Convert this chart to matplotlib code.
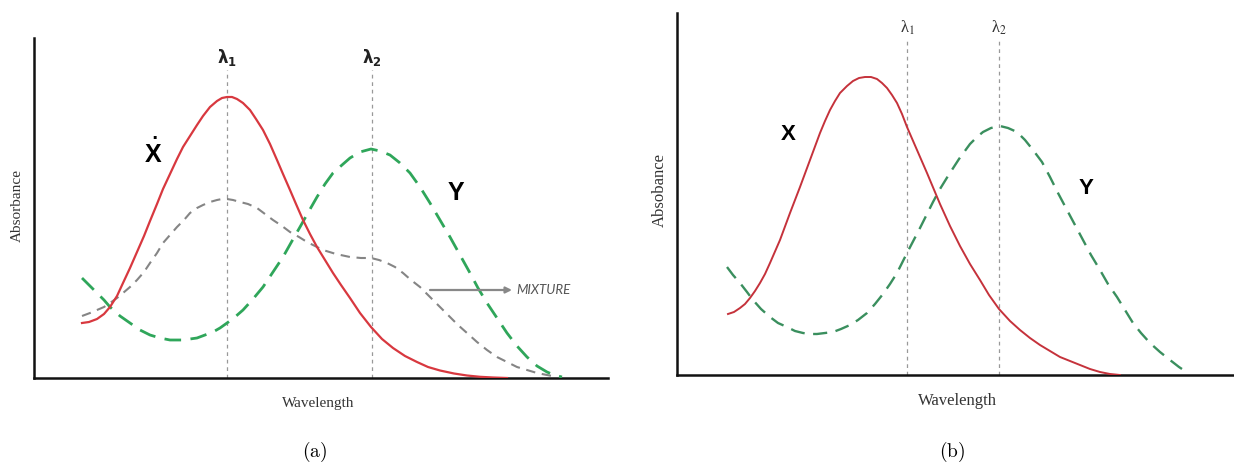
import matplotlib.pyplot as plt

# --- Panel (a): X, Y and their mixture ---
wl_red_a = [48, 55, 63, 70, 76, 83, 89, 96, 103, 110, 116, 123, 129, 136, 143, 149, 156,
            163, 169, 176, 183, 188, 193, 198, 203, 209, 216, 222, 229, 236, 243, 249,
            256, 262, 269, 276, 283, 291, 299, 307, 316, 326, 337, 348, 359, 371, 383,
            394, 406, 420, 433, 446, 459, 473]
abs_red_a = [55, 56, 59, 64, 71, 82, 95, 110, 126, 142, 157, 174, 189, 204, 219, 231, 242,
             253, 262, 271, 277, 280, 281, 281, 279, 275, 268, 259, 248, 234, 218, 204,
             188, 174, 158, 144, 131, 118, 105, 93, 80, 65, 51, 39, 30, 22, 16,
             11, 7.5, 4.5, 2.5, 1.2, 0.5, 0]

wl_green_a = [48, 56, 63, 70, 76, 86, 96, 106, 116, 126, 136, 148, 156, 163, 171, 179,
              186, 193, 201, 209, 219, 229, 239, 249, 258, 266, 275, 283, 291, 299, 308,
              316, 326, 337, 346, 356, 366, 376, 386, 396, 406, 416, 426, 436, 444, 453,
              463, 473, 483, 493, 503, 513, 520, 528]
abs_green_a = [100, 92, 85, 78, 71, 62, 55, 48, 43, 40, 38, 38, 39, 40, 43, 46,
               50, 55, 61, 68, 79, 91, 106, 121, 137, 151, 167, 181, 194, 205, 213,
               220, 226, 229, 227, 223, 215, 205, 191, 175, 158, 141, 123, 105, 90, 75,
               60, 45, 32, 21, 12, 6, 3, 1]

wl_mix_a = [48, 56, 63, 70, 76, 83, 89, 96, 103, 110, 116, 123, 129, 136, 143, 150, 156,
            163, 169, 176, 183, 188, 193, 199, 206, 214, 223, 231, 239, 248, 256, 265,
            273, 281, 289, 302, 316, 327, 337, 345, 353, 361, 369, 377, 386, 392, 399,
            407, 416, 424, 433, 443, 453, 463, 473, 483, 493, 503, 513, 523]
abs_mix_a = [62, 65, 68, 71, 75, 80, 85, 91, 98, 106, 115, 125, 135, 143, 151, 158, 165,
             170, 173, 176, 178, 179, 179, 178, 176, 174, 170, 164, 158, 152, 146, 141,
             136, 132, 128, 124, 121, 120, 120, 118, 115, 111, 105, 98, 91, 85, 78,
             70, 61, 53, 45, 36, 28, 21, 16, 11, 8, 5, 3, 1]

lambdas_a = [193, 338]

# --- Panel (b): X and Y only ---
wl_red_b = [51, 57, 63, 68, 73, 78, 83, 88, 93, 103, 113, 123, 133, 143, 148, 153, 158,
            163, 170, 176, 182, 188, 194, 200, 205, 210, 215, 220, 225, 230, 240, 250,
            263, 273, 283, 293, 303, 312, 322, 333, 343, 353, 363, 373, 383, 393, 403,
            413, 423, 433, 443]
abs_red_b = [61, 63, 67, 71, 77, 84, 92, 101, 112, 135, 162, 188, 215, 242, 254, 265, 274,
             282, 289, 294, 297, 298, 298, 296, 292, 287, 280, 272, 261, 248, 225, 202,
             171, 149, 129, 111, 95, 80, 66, 54, 45, 37, 30, 24, 18, 14, 10,
             6, 3, 1, 0]

wl_green_b = [50, 56, 63, 70, 76, 84, 93, 101, 110, 118, 126, 133, 140, 148, 156, 164,
              173, 181, 190, 198, 206, 213, 220, 230, 243, 256, 263, 271, 282, 293, 300,
              306, 314, 323, 331, 340, 348, 356, 365, 373, 381, 390, 398, 406, 414, 423,
              431, 440, 448, 456, 464, 473, 483, 493, 502, 511]
abs_green_b = [108, 100, 92, 83, 75, 66, 58, 52, 48, 44, 42, 41, 41, 42, 43, 46,
               50, 55, 62, 71, 81, 91, 102, 122, 147, 173, 186, 199, 216, 231, 238,
               243, 247, 249, 247, 243, 235, 225, 213, 198, 182, 165, 150, 135, 120, 105,
               91, 78, 65, 52, 42, 32, 23, 15, 8, 2]

lambdas_b = [230, 322]

W, H = 1234, 462
fig = plt.figure(figsize=(W / 100, H / 100), dpi=100)


def fx(px):
    return px / W


def fy(py):
    return 1 - py / H


ax1 = fig.add_axes([fx(34), fy(378), (608 - 34) / W, (378 - 38) / H])
ax2 = fig.add_axes([fx(677), fy(375), (1234 - 677) / W, (375 - 13) / H])

for ax in (ax1, ax2):
    for s in ('top', 'right'):
        ax.spines[s].set_visible(False)
    for s in ('left', 'bottom'):
        ax.spines[s].set_linewidth(1.8)
        ax.spines[s].set_color('#111111')
    ax.set_xticks([])
    ax.set_yticks([])

ax1.set_xlim(0, 574)
ax1.set_ylim(0, 340)
ax2.set_xlim(0, 557)
ax2.set_ylim(0, 362)

# reference wavelengths
for x in lambdas_a:
    ax1.plot([x, x], [0, 308], color='#999999', lw=0.9, ls=(0, (3, 3)), zorder=1)
for x in lambdas_b:
    ax2.plot([x, x], [0, 335], color='#999999', lw=0.9, ls=(0, (3, 3)), zorder=1)

style = dict(solid_joinstyle='round', dash_joinstyle='round')

# panel (a) curves
ax1.plot(wl_mix_a, abs_mix_a, color='#858585', lw=1.5, ls=(0, (4.5, 3.2)), zorder=2, **style)
ax1.plot(wl_green_a, abs_green_a, color='#2fa65a', lw=2.0, ls=(0, (6.0, 3.4)), zorder=3, **style)
ax1.plot(wl_red_a, abs_red_a, color='#d8383f', lw=1.6, zorder=4, **style)

# panel (b) curves
ax2.plot(wl_green_b, abs_green_b, color='#3a8f5e', lw=1.7, ls=(0, (6.0, 3.6)), zorder=3, **style)
ax2.plot(wl_red_b, abs_red_b, color='#c5323b', lw=1.4, zorder=4, **style)

# labels on panel (a)
for x, lab in zip(lambdas_a, [r'$\mathbf{\lambda_1}$', r'$\mathbf{\lambda_2}$']):
    ax1.text(x, 321, lab, ha='center', va='center', fontsize=12,
             math_fontfamily='dejavusans', color='#222222')
ax1.text(119, 223, 'X', ha='center', va='center', fontsize=18, fontweight='bold',
         family='Liberation Sans')
ax1.text(120, 244, '.', ha='center', va='center', fontsize=12, fontweight='bold')
ax1.text(422, 185, 'Y', ha='center', va='center', fontsize=18, fontweight='bold',
         family='Liberation Sans')
ax1.annotate('', xy=(478, 88), xytext=(396, 88),
             arrowprops=dict(arrowstyle='-|>', color='#888888', lw=1.6,
                             mutation_scale=9, shrinkA=0, shrinkB=0))
ax1.text(482, 88, 'MIXTURE', ha='left', va='center', fontsize=9.5,
         style='italic', family='Lato', color='#555555')

# labels on panel (b)
for x, lab in zip(lambdas_b, ['λ$_1$', 'λ$_2$']):
    ax2.text(x, 347, lab, ha='center', va='center', fontsize=12,
             family='Liberation Serif', math_fontfamily='stix', color='#333333')
ax2.text(111, 240, 'X', ha='center', va='center', fontsize=16, fontweight='bold',
         family='Liberation Sans')
ax2.text(409, 187, 'Y', ha='center', va='center', fontsize=16, fontweight='bold',
         family='Liberation Sans')

# axis titles
fig.text(fx(17), fy(205), 'Absorbance', rotation=90, ha='center', va='center',
         fontsize=11, family='Liberation Serif', color='#333333')
fig.text(fx(318), fy(404), 'Wavelength', ha='center', va='center',
         fontsize=11, family='Liberation Serif', color='#333333')
fig.text(fx(660), fy(190), 'Absobance', rotation=90, ha='center', va='center',
         fontsize=12, family='Liberation Serif', color='#333333')
fig.text(fx(957), fy(401), 'Wavelength', ha='center', va='center',
         fontsize=12, family='Liberation Serif', color='#333333')

# sub-figure captions
fig.text(fx(315), fy(452), r'$\mathrm{(a)}$', ha='center', va='center',
         fontsize=14, math_fontfamily='cm')
fig.text(fx(952), fy(452), r'$\mathrm{(b)}$', ha='center', va='center',
         fontsize=14, math_fontfamily='cm')

fig.savefig('out.png', dpi=100)
